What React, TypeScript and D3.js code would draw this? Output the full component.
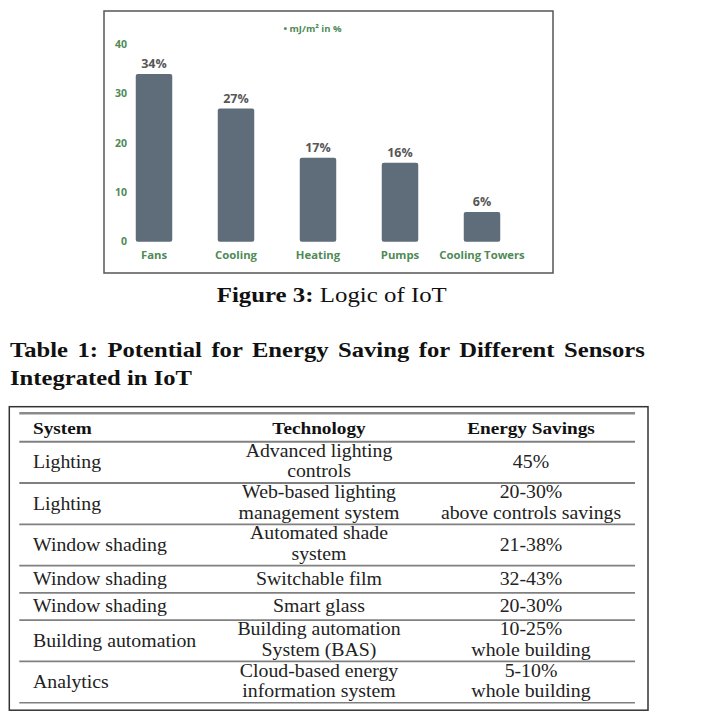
import React from "react";
import * as d3 from "d3";

const categories = ["Fans", "Cooling", "Heating", "Pumps", "Cooling Towers"];
const values = [34, 27, 17, 16, 6];
const valueLabels = ["34%", "27%", "17%", "16%", "6%"];
const yTicks = [0, 10, 20, 30, 40];
const legendLabel = "• mJ/m² in %";

const captionBold = "Figure 3:";
const captionRest = " Logic of IoT";
const headingLines = [
  "Table 1: Potential for Energy Saving for Different Sensors",
  "Integrated in IoT",
];

const tableHeaders = ["System", "Technology", "Energy Savings"];
const systems = [
  "Lighting",
  "Lighting",
  "Window shading",
  "Window shading",
  "Window shading",
  "Building automation",
  "Analytics",
];
const technologies = [
  ["Advanced lighting", "controls"],
  ["Web-based lighting", "management system"],
  ["Automated shade", "system"],
  ["Switchable film"],
  ["Smart glass"],
  ["Building automation", "System (BAS)"],
  ["Cloud-based energy", "information system"],
];
const savings = [
  ["45%"],
  ["20-30%", "above controls savings"],
  ["21-38%"],
  ["32-43%"],
  ["20-30%"],
  ["10-25%", "whole building"],
  ["5-10%", "whole building"],
];

const GREEN = "#4f8a57";
const BAR = "#5f6c7a";
const SERIF = "'Liberation Serif', 'Times New Roman', serif";
const SANS = "'Open Sans', 'Noto Sans', sans-serif";

export default function App() {
  const x = d3
    .scaleBand<string>()
    .domain(categories)
    .range([113, 523])
    .paddingInner(0.555)
    .paddingOuter(0.2775);
  const y = d3.scaleLinear().domain([0, 40]).range([241.7, 44.4]);

  // table geometry
  const tableLeft = 19.3;
  const tableRight = 635;
  const headerTop = 413.3;
  const headerH = 28.4;
  const singleH = 27.25;
  const doubleH = 41.3;
  const rowHeights = systems.map((_, i) =>
    Math.max(1, technologies[i].length, savings[i].length) > 1 ? doubleH : singleH
  );
  const rowTops: number[] = [];
  let acc = headerTop + headerH;
  rowHeights.forEach((h) => {
    rowTops.push(acc);
    acc += h;
  });
  const colSystemX = 33;
  const colTechX = 319;
  const colSaveX = 531;
  const sx = 1.1;

  const cellLines = (lines: string[], cx: number, top: number, h: number, anchor: string, key: string) => {
    const c = top + h / 2 + (lines.length > 1 ? 4.8 : 6);
    const lh = 20.6;
    return lines.map((t, j) => {
      const yy = c + (j - (lines.length - 1) / 2) * lh;
      return (
        <text
          key={key + j}
          transform={`translate(${cx},${yy}) scale(${sx},1)`}
          textAnchor={anchor}
          fontFamily={SERIF}
          fontSize={18}
          fill="#222"
        >
          {t}
        </text>
      );
    });
  };

  return (
    <svg
      width={717}
      height={712}
      style={{ position: "absolute", left: 0, top: 0, background: "#fff" }}
    >
      <rect x={0} y={0} width={717} height={712} fill="#fff" />
      {/* chart frame */}
      <rect x={104} y={11} width={449} height={262} fill="#fff" stroke="#555" strokeWidth={1.5} />
      <text x={312.5} y={32} textAnchor="middle" fontFamily={SANS} fontWeight={700} fontSize={9.5} fill={GREEN}>
        {legendLabel}
      </text>
      {yTicks.map((t) => (
        <text
          key={"yt" + t}
          x={127}
          y={y(t) + 3.6}
          textAnchor="end"
          fontFamily={SANS}
          fontWeight={700}
          fontSize={10.5}
          fill={GREEN}
        >
          {t}
        </text>
      ))}
      {categories.map((c, i) => (
        <g key={c}>
          <rect
            x={x(c)}
            y={y(values[i])}
            width={x.bandwidth()}
            height={y(0) - y(values[i])}
            rx={2}
            fill={BAR}
          />
          <text
            x={(x(c) as number) + x.bandwidth() / 2}
            y={y(values[i]) - 6}
            textAnchor="middle"
            fontFamily={SANS}
            fontWeight={700}
            fontSize={12.5}
            fill="#575757"
          >
            {valueLabels[i]}
          </text>
          <text
            x={(x(c) as number) + x.bandwidth() / 2}
            y={258.5}
            textAnchor="middle"
            fontFamily={SANS}
            fontWeight={700}
            fontSize={11.3}
            fill={GREEN}
          >
            {c}
          </text>
        </g>
      ))}

      {/* caption */}
      <text
        transform={`translate(216.7,301.7) scale(1.13,1)`}
        fontFamily={SERIF}
        fontSize={22}
        fill="#111"
      >
        <tspan fontWeight={700}>{captionBold}</tspan>
        <tspan>{captionRest}</tspan>
      </text>

      {/* heading */}
      <text
        transform={`translate(10,356.7) scale(1.12,1)`}
        fontFamily={SERIF}
        fontWeight={700}
        fontSize={22}
        fill="#111"
        style={{ wordSpacing: "3px" }}
      >
        {headingLines[0]}
      </text>
      <text
        transform={`translate(10,385) scale(1.12,1)`}
        fontFamily={SERIF}
        fontWeight={700}
        fontSize={22}
        fill="#111"
      >
        {headingLines[1]}
      </text>

      {/* table */}
      <rect x={9.3} y={406.7} width={638.7} height={303.5} fill="none" stroke="#333" strokeWidth={1.5} />
      <line x1={tableLeft} x2={tableRight} y1={headerTop} y2={headerTop} stroke="#8a8a8a" strokeWidth={2.5} />
      <line
        x1={tableLeft}
        x2={tableRight}
        y1={headerTop + headerH}
        y2={headerTop + headerH}
        stroke="#808080"
        strokeWidth={2}
      />
      {rowTops.map((t, i) => (
        <line
          key={"rl" + i}
          x1={tableLeft}
          x2={tableRight}
          y1={t + rowHeights[i]}
          y2={t + rowHeights[i]}
          stroke="#808080"
          strokeWidth={i === rowTops.length - 1 ? 1.5 : 1.8}
        />
      ))}
      {tableHeaders.map((h, i) => (
        <text
          key={h}
          transform={`translate(${[colSystemX, colTechX, colSaveX][i]},${headerTop + headerH / 2 + 6}) scale(${sx},1)`}
          textAnchor={i === 0 ? "start" : "middle"}
          fontFamily={SERIF}
          fontWeight={700}
          fontSize={17.5}
          fill="#111"
        >
          {h}
        </text>
      ))}
      {systems.map((s, i) => (
        <g key={"row" + i}>
          {cellLines([s], colSystemX, rowTops[i], rowHeights[i], "start", "s" + i)}
          {cellLines(technologies[i], colTechX, rowTops[i], rowHeights[i], "middle", "t" + i)}
          {cellLines(savings[i], colSaveX, rowTops[i], rowHeights[i], "middle", "v" + i)}
        </g>
      ))}
    </svg>
  );
}
